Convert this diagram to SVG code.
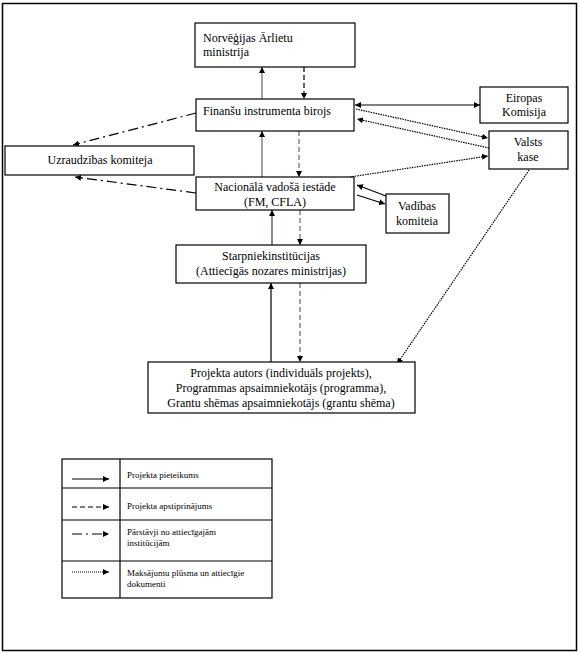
<svg xmlns="http://www.w3.org/2000/svg" width="580" height="654" viewBox="0 0 580 654">
<defs>
<style>
.box{fill:#fff;stroke:#000;stroke-width:1.2}
.t{font-family:"Liberation Serif","Times New Roman",serif;font-size:12px;fill:#000}
.tc{text-anchor:middle}
.lg{font-family:"Liberation Serif","Times New Roman",serif;font-size:9px;fill:#000}
.c{fill:none;stroke:#000;stroke-width:1.2}
.gray{stroke:#666}
.green{stroke:#2a4a2a}
.dash{stroke-dasharray:5,3}
.dd{stroke-dasharray:10,4,2,4}
.dot{stroke-dasharray:1.5,1;stroke-width:1.2}
</style>
<marker id="a" viewBox="0 0 10 10" refX="10" refY="5" markerWidth="6" markerHeight="6" markerUnits="userSpaceOnUse" orient="auto-start-reverse"><path d="M0,0L10,5L0,10z" fill="#000"/></marker>
</defs>
<rect x="2.5" y="3.5" width="574" height="647" fill="#fff" stroke="#000" stroke-width="1.5"/>
<g id="connectors">
<line class="c gray" x1="262" y1="99" x2="262" y2="67" marker-end="url(#a)"/>
<line class="c dash" x1="304" y1="67" x2="304" y2="99" marker-end="url(#a)"/>
<line class="c" x1="355" y1="105" x2="480" y2="105" marker-start="url(#a)" marker-end="url(#a)"/>
<line class="c dot" x1="356" y1="109" x2="488" y2="138" marker-end="url(#a)"/>
<line class="c dot" x1="489" y1="148" x2="357" y2="119" marker-end="url(#a)"/>
<line class="c dot" x1="350" y1="177" x2="488" y2="156" marker-end="url(#a)"/>
<line class="c dot" x1="529" y1="170" x2="397" y2="364" marker-end="url(#a)"/>
<line class="c dd" x1="196" y1="113" x2="73" y2="145" marker-end="url(#a)"/>
<line class="c dd" x1="196" y1="193" x2="75" y2="177" marker-end="url(#a)"/>
<line class="c gray" x1="262" y1="177" x2="262" y2="131" marker-end="url(#a)"/>
<line class="c gray dash" x1="299" y1="131" x2="299" y2="177" marker-end="url(#a)"/>
<line class="c" x1="386" y1="196" x2="357" y2="185" marker-end="url(#a)" stroke-width="1.5"/>
<line class="c" x1="357" y1="195" x2="385" y2="204" marker-end="url(#a)" stroke-width="0.9"/>
<line class="c green" x1="272" y1="245" x2="272" y2="210" marker-end="url(#a)"/>
<line class="c gray dash" x1="300" y1="210" x2="300" y2="245" marker-end="url(#a)"/>
<line class="c" x1="271" y1="362" x2="271" y2="283" marker-end="url(#a)" stroke-width="1.5"/>
<line class="c gray dash" x1="300" y1="283" x2="300" y2="362" marker-end="url(#a)"/>
</g>
<g id="norvegijas">
<rect class="box" x="195" y="23" width="160" height="44"/>
<text class="t" x="203" y="42">Norvēģijas Ārlietu</text>
<text class="t" x="203" y="56">ministrija</text>
</g>
<g id="finansu">
<rect class="box" x="196" y="99" width="158" height="32"/>
<text class="t" x="203" y="115">Finanšu instrumenta birojs</text>
</g>
<g id="eiropas">
<rect class="box" x="480" y="87" width="88" height="36"/>
<text class="t tc" x="524" y="102">Eiropas</text>
<text class="t tc" x="524" y="116">Komisija</text>
</g>
<g id="valsts">
<rect class="box" x="489" y="131" width="79" height="38"/>
<text class="t tc" x="528" y="146">Valsts</text>
<text class="t tc" x="528" y="161">kase</text>
</g>
<g id="uzraudzibas">
<rect class="box" x="5" y="146" width="189" height="29"/>
<text class="t tc" x="100" y="164">Uzraudzības komiteja</text>
</g>
<g id="nacionala">
<rect class="box" x="196" y="177" width="158" height="33"/>
<text class="t tc" x="275" y="191">Nacionālā vadošā iestāde</text>
<text class="t tc" x="275" y="206">(FM, CFLA)</text>
</g>
<g id="vadibas">
<rect class="box" x="386" y="194" width="63" height="39"/>
<text class="t tc" x="417" y="210">Vadības</text>
<text class="t tc" x="417" y="225">komiteia</text>
</g>
<g id="starpnieki">
<rect class="box" x="176" y="245" width="190" height="38"/>
<text class="t tc" x="271" y="260">Starpniekinstitūcijas</text>
<text class="t tc" x="271" y="275">(Attiecīgās nozares ministrijas)</text>
</g>
<g id="projekta">
<rect class="box" x="148" y="362" width="267" height="51"/>
<text class="t tc" x="281" y="377">Projekta autors (individuāls projekts),</text>
<text class="t tc" x="281" y="392">Programmas apsaimniekotājs (programma),</text>
<text class="t tc" x="281" y="407">Grantu shēmas apsaimniekotājs (grantu shēma)</text>
</g>
<g id="legend">
<rect x="62" y="459" width="210" height="139" fill="#fff" stroke="#000" stroke-width="1.2"/>
<line x1="120" y1="459" x2="120" y2="598" stroke="#000" stroke-width="1.2"/>
<line x1="62" y1="488" x2="272" y2="488" stroke="#000" stroke-width="1.2"/>
<line x1="62" y1="520" x2="272" y2="520" stroke="#000" stroke-width="1.2"/>
<line x1="62" y1="561" x2="272" y2="561" stroke="#000" stroke-width="1.2"/>
<line class="c" x1="72" y1="479" x2="109" y2="479" marker-end="url(#a)"/>
<line class="c dash" x1="72" y1="507" x2="109" y2="507" marker-end="url(#a)"/>
<line class="c dd" x1="72" y1="534" x2="109" y2="534" marker-end="url(#a)"/>
<line class="c" x1="72" y1="572" x2="109" y2="572" marker-end="url(#a)" stroke-dasharray="1,1" stroke-width="0.8"/>
<text class="lg" x="127" y="478">Projekta pieteikums</text>
<text class="lg" x="127" y="509">Projekta apstiprinājums</text>
<text class="lg" x="127" y="535">Pārstāvji no attiecīgajām</text>
<text class="lg" x="127" y="546">institūcijām</text>
<text class="lg" x="127" y="576">Maksājumu plūsma un attiecīgie</text>
<text class="lg" x="127" y="587">dokumenti</text>
</g>
</svg>
